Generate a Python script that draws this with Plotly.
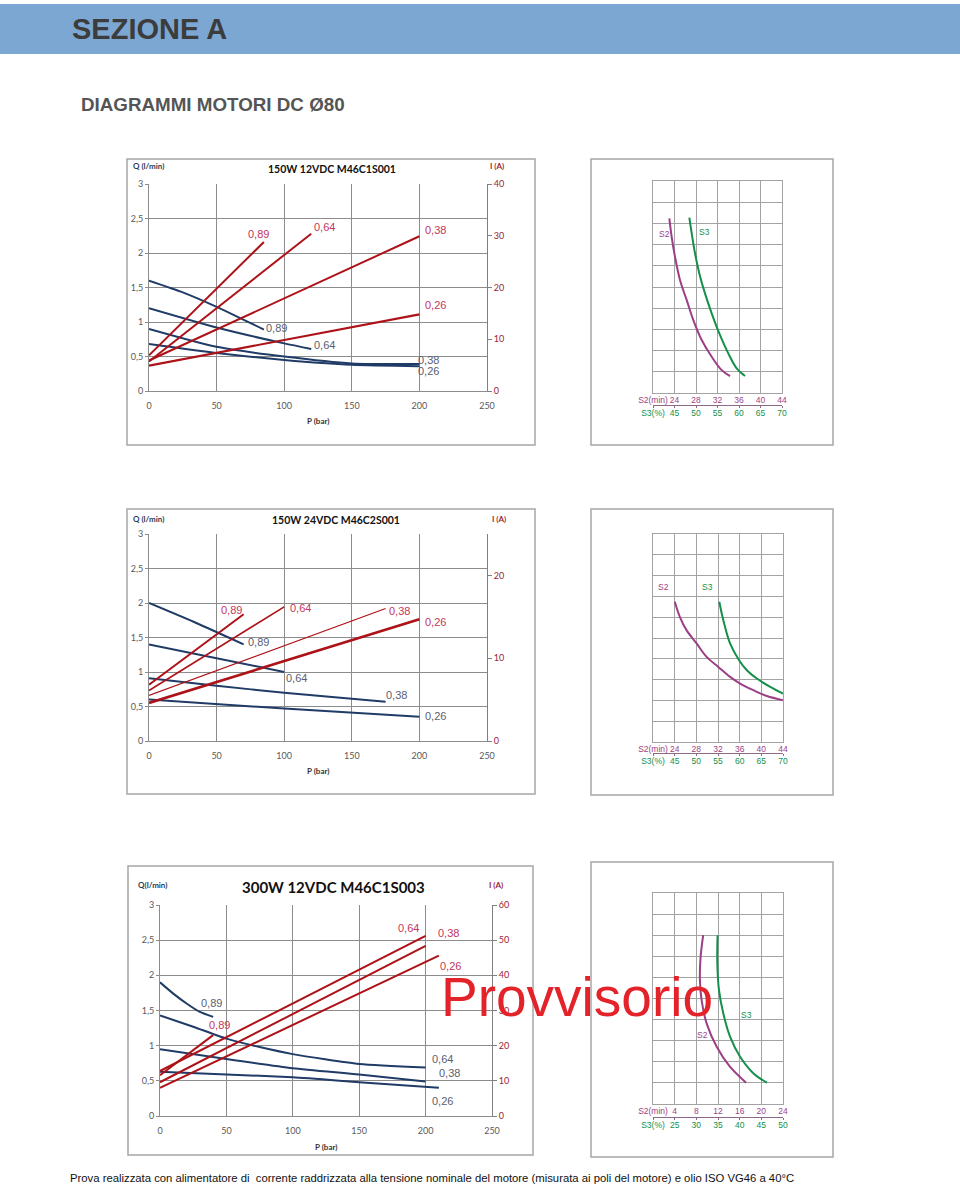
import plotly.graph_objects as go

W, H = 960, 1187


def fx(x):
    return x / W


def fy(y):
    return 1 - y / H


# ---------------- data ----------------
SERIES = ["0,89", "0,64", "0,38", "0,26"]
P_TICKS = [0, 50, 100, 150, 200, 250]
Q_TICKS = [0, 0.5, 1, 1.5, 2, 2.5, 3]

# Chart 1 : 150W 12VDC M46C1S001
c1_title = "150W 12VDC M46C1S001"
c1_flow_p = [[0, 25, 50, 85], [0, 50, 100, 120], [0, 50, 100, 150, 200], [0, 50, 100, 150, 200]]
c1_flow_q = [[1.60, 1.43, 1.22, 0.89], [1.20, 0.92, 0.69, 0.61], [0.90, 0.64, 0.50, 0.40, 0.39],
             [0.68, 0.55, 0.45, 0.38, 0.36]]
c1_curr_p = [[0, 85], [0, 120], [0, 200], [0, 200]]
c1_curr_i = [[6.9, 28.8], [5.7, 30.4], [5.9, 29.9], [4.9, 14.8]]
c1_i_max = 40
c1_i_ticks = [0, 10, 20, 30, 40]
c1_flow_lab_p = [94, 130, 207, 207]
c1_flow_lab_q = [0.92, 0.66, 0.45, 0.29]
c1_curr_lab_p = [81, 130, 212, 212]
c1_curr_lab_i = [30.4, 31.6, 31.2, 16.7]

# Chart 2 : 150W 24VDC M46C2S001
c2_title = "150W 24VDC M46C2S001"
c2_flow_p = [[0, 35, 70], [0, 50, 100], [0, 50, 100, 175], [0, 100, 200]]
c2_flow_q = [[2.0, 1.71, 1.4], [1.4, 1.2, 1.0], [0.91, 0.8, 0.7, 0.57], [0.6, 0.47, 0.35]]
c2_curr_p = [[0, 70], [0, 100], [0, 175], [0, 200]]
c2_curr_i = [[6.8, 15.3], [6.1, 16.2], [5.5, 16.0], [4.6, 14.7]]
c2_i_max = 25
c2_i_ticks = [0, 10, 20]
c2_flow_lab_p = [81, 109, 183, 212]
c2_flow_lab_q = [1.43, 0.92, 0.67, 0.36]
c2_curr_lab_p = [61, 112, 185, 212]
c2_curr_lab_i = [15.8, 16.1, 15.75, 14.4]

# Chart 3 : 300W 12VDC M46C1S003
c3_title = "300W 12VDC M46C1S003"
c3_flow_p = [[0, 10, 20, 30, 40], [0, 25, 50, 75, 100, 150, 200], [0, 50, 100, 150, 200],
             [0, 50, 100, 150, 210]]
c3_flow_q = [[1.90, 1.74, 1.60, 1.48, 1.41], [1.43, 1.27, 1.10, 0.98, 0.88, 0.74, 0.69],
             [0.95, 0.81, 0.68, 0.59, 0.49], [0.63, 0.59, 0.55, 0.48, 0.40]]
c3_curr_p = [[0, 40], [0, 200], [0, 200], [0, 210]]
c3_curr_i = [[11.6, 23.0], [12.8, 51.2], [9.6, 48.4], [8.0, 45.6]]
c3_i_max = 60
c3_i_ticks = [0, 10, 20, 30, 40, 50, 60]
c3_flow_lab_p = [39, 213, 218, 213]
c3_flow_lab_q = [1.60, 0.81, 0.61, 0.21]
c3_curr_lab_p = [45, 187, 217, 219]
c3_curr_lab_i = [26.0, 53.4, 52.1, 42.6]

# Duty-cycle charts (S2 minutes / S3 percent)
r1_s2_ticks = [20, 24, 28, 32, 36, 40, 44]
r1_s3_ticks = [40, 45, 50, 55, 60, 65, 70]
r1_s2_x = [23.04, 23.47, 24.09, 25.02, 26.26, 27.5, 29.06, 30.92, 32.78, 34.33]
r1_s2_y = [8.24, 7.37, 6.43, 5.33, 4.39, 3.44, 2.5, 1.71, 1.08, 0.80]
r1_s3_x = [48.45, 49.0, 49.77, 50.77, 52.09, 53.65, 55.42, 57.51, 59.47, 61.4]
r1_s3_y = [8.27, 7.53, 6.59, 5.64, 4.70, 3.76, 2.81, 1.87, 1.16, 0.80]

r2_s2_ticks = [20, 24, 28, 32, 36, 40, 44]
r2_s3_ticks = [40, 45, 50, 55, 60, 65, 70]
r2_s2_x = [24.02, 24.95, 26.19, 28.05, 29.9, 32.06, 34.23, 36.08, 38.55, 41.03, 44.0]
r2_s2_y = [6.74, 6.02, 5.38, 4.74, 4.09, 3.61, 3.13, 2.81, 2.49, 2.21, 2.01]
r2_s3_x = [55.3, 55.86, 56.62, 57.78, 59.87, 61.65, 63.97, 67.05, 70.0]
r2_s3_y = [6.74, 6.18, 5.54, 4.74, 3.93, 3.45, 3.05, 2.65, 2.33]

r3_s2_ticks = [0, 4, 8, 12, 16, 20, 24]
r3_s3_ticks = [20, 25, 30, 35, 40, 45, 50]
r3_s2_x = [9.27, 8.79, 8.66, 8.97, 9.9, 11.76, 14.2, 17.19]
r3_s2_y = [8.0, 6.97, 5.87, 4.92, 3.82, 2.71, 1.77, 1.01]
r3_s3_x = [34.9, 34.84, 35.23, 36.23, 37.78, 40.1, 43.2, 46.3]
r3_s3_y = [8.0, 6.66, 5.4, 4.29, 3.19, 2.24, 1.45, 1.01]

FOOTER = ("Prova realizzata con alimentatore di  corrente raddrizzata alla tensione nominale "
          "del motore (misurata ai poli del motore) e olio ISO VG46 a 40°C")

# ---------------- styles ----------------
GRID = "#8c8c8c"
RGRID = "#a3a3a3"
BLUE = "#1f3b66"
RED = "#ad1218"
RED_TXT = "#c4365e"
BLUE_TXT = "#5a6070"
IRED = "#9b2335"
PURPLE = "#9c3f86"
GREEN = "#14904a"
FRAME = "#a6a6a6"
CAL = "Lato, Liberation Sans, Arial"
ARI = "Liberation Sans, Arial"
TICKF = dict(family=CAL, size=9, color="#595959")

fig = go.Figure()
axes = {}
annotations = []
shapes = []


def akey(kind, n):
    return f"{kind}axis" + ("" if n == 1 else str(n))


def aref(kind, n):
    return kind + ("" if n == 1 else str(n))


def frame(x0, y0, x1, y1):
    shapes.append(dict(type="rect", xref="paper", yref="paper", x0=fx(x0), x1=fx(x1), y0=fy(y1), y1=fy(y0),
                       line=dict(color=FRAME, width=1.5), fillcolor="rgba(0,0,0,0)", layer="below"))


def text(x, y, s, size, color, family=ARI, bold=False, xanchor="center"):
    if bold:
        s = "<b>" + s + "</b>"
    annotations.append(dict(xref="paper", yref="paper", x=fx(x), y=fy(y), text=s, showarrow=False,
                            xanchor=xanchor, yanchor="middle", font=dict(family=family, size=size, color=color)))


def left_chart(xn, yn, y2n, plot, imax, iticks, flow_p, flow_q, curr_p, curr_i, curr_w,
               flp, flq, clp, cli):
    x0, y0, x1, y1 = plot
    xr, yr, y2r = aref("x", xn), aref("y", yn), aref("y", y2n)
    axes[akey("x", xn)] = dict(domain=[fx(x0), fx(x1)], range=[0, 250], tickvals=P_TICKS, anchor=yr,
                               showgrid=True, gridcolor=GRID, gridwidth=1, showline=True, linecolor=GRID,
                               ticks="", ticklen=0, tickangle=0, tickfont=TICKF, ticklabelstandoff=6,
                               zeroline=False, automargin=False)
    axes[akey("y", yn)] = dict(domain=[fy(y1), fy(y0)], range=[0, 3], tickvals=Q_TICKS, anchor=xr,
                               showgrid=True, gridcolor=GRID, gridwidth=1, showline=True, linecolor=GRID,
                               ticks="outside", ticklen=3, tickcolor=GRID, tickfont=TICKF, zeroline=False,
                               automargin=False)
    axes[akey("y", y2n)] = dict(overlaying=yr, side="right", anchor=xr, range=[0, imax], tickvals=iticks,
                                showgrid=False, showline=True, linecolor="#7f7f7f", ticks="outside", ticklen=4,
                                tickcolor="#7f7f7f", tickfont=dict(family=CAL, size=9, color=IRED),
                                zeroline=False, automargin=False)
    for i in range(4):
        fig.add_trace(go.Scatter(x=flow_p[i], y=flow_q[i], mode="lines", xaxis=xr, yaxis=yr,
                                 line=dict(color=BLUE, width=2, shape="spline", smoothing=0.6),
                                 hoverinfo="skip", showlegend=False))
    for i in range(4):
        fig.add_trace(go.Scatter(x=curr_p[i], y=curr_i[i], mode="lines", xaxis=xr, yaxis=y2r,
                                 line=dict(color=RED, width=curr_w[i]), hoverinfo="skip", showlegend=False))
    for i in range(4):
        annotations.append(dict(xref=xr, yref=yr, x=flp[i], y=flq[i], text=SERIES[i], showarrow=False,
                                font=dict(family=ARI, size=11, color=BLUE_TXT)))
        annotations.append(dict(xref=xr, yref=y2r, x=clp[i], y=cli[i], text=SERIES[i], showarrow=False,
                                font=dict(family=ARI, size=11, color=RED_TXT)))


def right_chart(xn, x3n, yn, plot, line_y, s2_ticks, s3_ticks, s2x, s2y, s3x, s3y, lab_s2, lab_s3):
    x0, y0, x1, y1 = plot
    xr, x3r, yr = aref("x", xn), aref("x", x3n), aref("y", yn)
    axes[akey("x", xn)] = dict(domain=[fx(x0), fx(x1)], range=[s2_ticks[0], s2_ticks[-1]], tickvals=s2_ticks,
                               ticktext=["S2(min)"] + [str(v) for v in s2_ticks[1:]], anchor=yr,
                               showgrid=True, gridcolor=RGRID, gridwidth=1.3, showline=True, mirror=True,
                               linecolor=RGRID, linewidth=1.3, ticks="", ticklen=0, tickangle=0,
                               ticklabelstandoff=-1, zeroline=False, automargin=False,
                               tickfont=dict(family=ARI, size=8.5, color=PURPLE))
    axes[akey("x", x3n)] = dict(overlaying=xr, anchor="free", position=fy(line_y), side="bottom",
                                range=[s3_ticks[0], s3_ticks[-1]], tickvals=s3_ticks,
                                ticktext=["S3(%)"] + [str(v) for v in s3_ticks[1:]], showgrid=False,
                                showline=True, linecolor="#8a6a86", linewidth=1, ticks="outside", ticklen=2,
                                tickcolor="#8a6a86", tickangle=0, ticklabelstandoff=-2, zeroline=False,
                                automargin=False, tickfont=dict(family=ARI, size=8.5, color=GREEN))
    axes[akey("y", yn)] = dict(domain=[fy(y1), fy(y0)], range=[0, 10], dtick=1, anchor=xr,
                               showticklabels=False, showgrid=True, gridcolor=RGRID, gridwidth=1.3,
                               showline=True, mirror=True, linecolor=RGRID, linewidth=1.3, zeroline=False,
                               automargin=False, ticks="")
    fig.add_trace(go.Scatter(x=s2x, y=s2y, mode="lines", xaxis=xr, yaxis=yr,
                             line=dict(color=PURPLE, width=2, shape="spline"), hoverinfo="skip",
                             showlegend=False))
    fig.add_trace(go.Scatter(x=s3x, y=s3y, mode="lines", xaxis=x3r, yaxis=yr,
                             line=dict(color=GREEN, width=2, shape="spline"), hoverinfo="skip",
                             showlegend=False))
    annotations.append(dict(xref=xr, yref=yr, x=lab_s2[0], y=lab_s2[1], text="S2", showarrow=False,
                            font=dict(family=ARI, size=8.5, color=PURPLE)))
    annotations.append(dict(xref=xr, yref=yr, x=lab_s3[0], y=lab_s3[1], text="S3", showarrow=False,
                            font=dict(family=ARI, size=8.5, color=GREEN)))


# ---------------- header ----------------
shapes.append(dict(type="rect", xref="paper", yref="paper", x0=0, x1=1, y0=fy(54), y1=fy(4),
                   fillcolor="#7ba7d2", line=dict(width=0), layer="below"))
text(70, 29, "SEZIONE A", 29, "#3c3c3c", ARI, True, "left")
text(79, 104, "DIAGRAMMI MOTORI DC Ø80", 18.8, "#555555", ARI, True, "left")

# ---------------- chart 1 ----------------
frame(127, 159, 535, 445)
frame(591, 159, 833, 445)
left_chart(1, 1, 2, (149, 184, 487, 391), c1_i_max, c1_i_ticks, c1_flow_p, c1_flow_q, c1_curr_p, c1_curr_i,
           [2, 2, 2, 2.2], c1_flow_lab_p, c1_flow_lab_q, c1_curr_lab_p, c1_curr_lab_i)
text(332, 169, c1_title, 10.5, "#111111", CAL, True)
text(148, 166, "Q (l/min)", 8, "#2d3b55", CAL, True)
text(497, 166, "I (A)", 8, IRED, CAL, True)
text(318, 421, "P (bar)", 8, "#333333", CAL, True)
right_chart(2, 3, 3, (653, 181, 782, 393), 405, r1_s2_ticks, r1_s3_ticks, r1_s2_x, r1_s2_y, r1_s3_x, r1_s3_y,
            (22.05, 7.5), (29.5, 7.6))

# ---------------- chart 2 ----------------
frame(127, 509, 535, 794)
frame(591, 509, 833, 795)
left_chart(4, 4, 5, (149, 534, 487, 741), c2_i_max, c2_i_ticks, c2_flow_p, c2_flow_q, c2_curr_p, c2_curr_i,
           [2, 1.6, 1.2, 2.6], c2_flow_lab_p, c2_flow_lab_q, c2_curr_lab_p, c2_curr_lab_i)
text(336, 520, c2_title, 10.5, "#111111", CAL, True)
text(148, 519, "Q (l/min)", 8, "#2d3b55", CAL, True)
text(499, 519, "I (A)", 8, IRED, CAL, True)
text(318, 771, "P (bar)", 8, "#333333", CAL, True)
right_chart(5, 6, 6, (653, 534, 783, 742), 753, r2_s2_ticks, r2_s3_ticks, r2_s2_x, r2_s2_y, r2_s3_x, r2_s3_y,
            (22.0, 7.46), (30.1, 7.46))

# ---------------- chart 3 ----------------
frame(128, 866, 533, 1155)
frame(591, 862, 833, 1157)
left_chart(7, 7, 8, (160, 905, 492, 1116), c3_i_max, c3_i_ticks, c3_flow_p, c3_flow_q, c3_curr_p, c3_curr_i,
           [2, 2, 2, 2], c3_flow_lab_p, c3_flow_lab_q, c3_curr_lab_p, c3_curr_lab_i)
text(333, 887, c3_title, 15, "#111111", CAL, True)
text(152, 885, "Q(l/min)", 8, "#2d3b55", CAL, True)
text(496, 885, "I (A)", 8, IRED, CAL, True)
text(326, 1147, "P (bar)", 8, "#333333", CAL, True)
right_chart(8, 9, 9, (653, 893, 783, 1104), 1117, r3_s2_ticks, r3_s3_ticks, r3_s2_x, r3_s2_y, r3_s3_x,
            r3_s3_y, (9.16, 3.27), (17.2, 4.2))

# ---------------- overlay texts ----------------
text(577, 997, "Provvisorio", 55, "#e3222a", ARI)
text(68, 1178, FOOTER, 11.3, "#111111", ARI, False, "left")

fig.update_layout(template="none", width=W, height=H, margin=dict(l=0, r=0, t=0, b=0, pad=0),
                  paper_bgcolor="white", plot_bgcolor="white", showlegend=False, separators=",.",
                  annotations=annotations, shapes=shapes, **axes)
fig.write_html("out.html")
